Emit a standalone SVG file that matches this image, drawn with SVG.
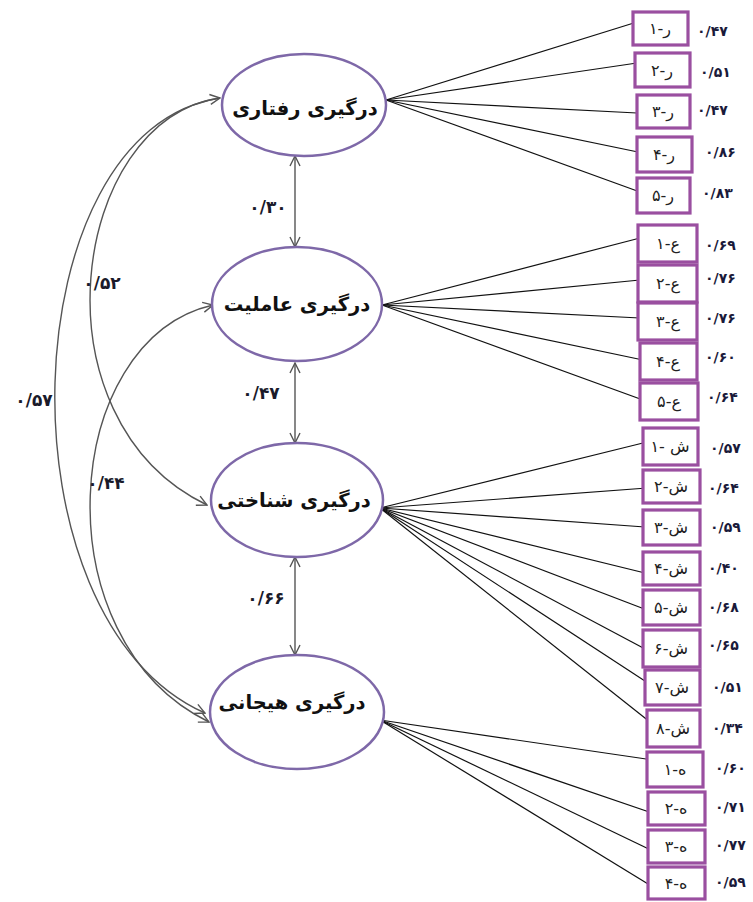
<svg xmlns="http://www.w3.org/2000/svg" width="753" height="902" viewBox="0 0 753 902">
<style>
  .lat { fill: #ffffff; stroke: #7e68a8; stroke-width: 2.5; }
  .lbl { font-family: "DejaVu Sans", "Noto Sans", sans-serif; font-weight: bold; font-size: 19.5px; fill: #111; text-anchor: middle; dominant-baseline: central; }
  .box { fill: #ffffff; stroke: #9a4fa0; stroke-width: 3.2; }
  .btx { font-family: "DejaVu Sans", sans-serif; font-size: 16px; fill: #222; text-anchor: middle; dominant-baseline: central; }
  .val { font-family: "DejaVu Sans", sans-serif; font-size: 14px; font-weight: bold; fill: #1a1a3a; dominant-baseline: central; }
  .cor { font-family: "DejaVu Sans", sans-serif; font-size: 17px; font-weight: bold; fill: #1a1a2a; text-anchor: middle; dominant-baseline: central; }
  .ld { stroke: #111; stroke-width: 1.2; fill: none; }
  .cv { stroke: #555; stroke-width: 1.4; fill: none; }
</style>
<defs>
  <marker id="ah" viewBox="0 0 12 12" refX="11" refY="6" markerWidth="12" markerHeight="12" markerUnits="userSpaceOnUse" orient="auto-start-reverse">
    <path d="M1,1 L11,6 L1,11" fill="none" stroke="#555" stroke-width="1.4"/>
  </marker>
</defs>

<g id="connectors">
  <path class="cv" d="M220,98 C10,130 -5,620 205,713" marker-end="url(#ah)"/>
  <path class="cv" d="M220,98 C70,120 30,420 207,505" marker-start="url(#ah)" marker-end="url(#ah)"/>
  <path class="cv" d="M213,305 C60,340 40,640 209,722" marker-start="url(#ah)" marker-end="url(#ah)"/>
  <line class="cv" x1="295" y1="156" x2="295" y2="247" marker-start="url(#ah)" marker-end="url(#ah)"/>
  <line class="cv" x1="295" y1="363" x2="295" y2="443" marker-start="url(#ah)" marker-end="url(#ah)"/>
  <line class="cv" x1="295" y1="557" x2="295" y2="655" marker-start="url(#ah)" marker-end="url(#ah)"/>
  <line class="ld" x1="386" y1="100" x2="637" y2="22"/>
  <line class="ld" x1="386" y1="100" x2="637" y2="63"/>
  <line class="ld" x1="386" y1="100" x2="637" y2="113"/>
  <line class="ld" x1="386" y1="100" x2="638" y2="152"/>
  <line class="ld" x1="386" y1="100" x2="640" y2="192"/>
  <line class="ld" x1="382" y1="305" x2="640" y2="238"/>
  <line class="ld" x1="382" y1="305" x2="640" y2="280"/>
  <line class="ld" x1="382" y1="305" x2="640" y2="318"/>
  <line class="ld" x1="382" y1="305" x2="643" y2="360"/>
  <line class="ld" x1="382" y1="305" x2="643" y2="400"/>
  <line class="ld" x1="380" y1="508" x2="647" y2="442"/>
  <line class="ld" x1="380" y1="508" x2="647" y2="488"/>
  <line class="ld" x1="380" y1="508" x2="645" y2="527"/>
  <line class="ld" x1="380" y1="508" x2="645" y2="573"/>
  <line class="ld" x1="380" y1="508" x2="647" y2="610"/>
  <line class="ld" x1="380" y1="508" x2="647" y2="650"/>
  <line class="ld" x1="380" y1="508" x2="648" y2="683"/>
  <line class="ld" x1="380" y1="508" x2="650" y2="722"/>
  <line class="ld" x1="380" y1="720" x2="653" y2="760"/>
  <line class="ld" x1="380" y1="720" x2="658" y2="815"/>
  <line class="ld" x1="380" y1="720" x2="655" y2="852"/>
  <line class="ld" x1="380" y1="720" x2="653" y2="887"/>
</g>

<g id="corr-labels">
  <text class="cor" x="268" y="207">۰/۳۰</text>
  <text class="cor" x="261" y="393">۰/۴۷</text>
  <text class="cor" x="266" y="598">۰/۶۶</text>
  <text class="cor" x="102" y="283">۰/۵۲</text>
  <text class="cor" x="34" y="400">۰/۵۷</text>
  <text class="cor" x="106" y="483">۰/۴۴</text>
</g>

<g id="f1">
  <ellipse class="lat" cx="304" cy="105" rx="82" ry="51"/>
  <text class="lbl" x="305" y="108" direction="rtl">درگیری رفتاری</text>
</g>
<g id="f2">
  <ellipse class="lat" cx="297" cy="304" rx="85" ry="57"/>
  <text class="lbl" x="297" y="304" direction="rtl">درگیری عاملیت</text>
</g>
<g id="f3">
  <ellipse class="lat" cx="297" cy="500" rx="86" ry="57"/>
  <text class="lbl" x="294" y="500" direction="rtl">درگیری شناختی</text>
</g>
<g id="f4">
  <ellipse class="lat" cx="297" cy="712" rx="87" ry="57"/>
  <text class="lbl" x="292" y="702" direction="rtl">درگیری هیجانی</text>
</g>

<g id="r1"><rect class="box" x="633" y="12" width="55" height="33"/><text class="btx" x="660" y="28" direction="rtl">ر-۱</text><text class="val" x="697" y="31">۰/۴۷</text></g>
<g id="r2"><rect class="box" x="635" y="53" width="55" height="34"/><text class="btx" x="662" y="70" direction="rtl">ر-۲</text><text class="val" x="700" y="72">۰/۵۱</text></g>
<g id="r3"><rect class="box" x="637" y="95" width="53" height="33"/><text class="btx" x="663" y="111" direction="rtl">ر-۳</text><text class="val" x="697" y="110">۰/۴۷</text></g>
<g id="r4"><rect class="box" x="637" y="137" width="55" height="35"/><text class="btx" x="664" y="154" direction="rtl">ر-۴</text><text class="val" x="705" y="152">۰/۸۶</text></g>
<g id="r5"><rect class="box" x="637" y="178" width="53" height="35"/><text class="btx" x="663" y="195" direction="rtl">ر-۵</text><text class="val" x="702" y="193">۰/۸۳</text></g>

<g id="a1"><rect class="box" x="638" y="225" width="59" height="37"/><text class="btx" x="668" y="243" direction="rtl">ع-۱</text><text class="val" x="705" y="245">۰/۶۹</text></g>
<g id="a2"><rect class="box" x="638" y="265" width="59" height="37"/><text class="btx" x="668" y="283" direction="rtl">ع-۲</text><text class="val" x="705" y="278">۰/۷۶</text></g>
<g id="a3"><rect class="box" x="638" y="303" width="59" height="37"/><text class="btx" x="668" y="321" direction="rtl">ع-۳</text><text class="val" x="705" y="318">۰/۷۶</text></g>
<g id="a4"><rect class="box" x="640" y="343" width="57" height="37"/><text class="btx" x="668" y="361" direction="rtl">ع-۴</text><text class="val" x="705" y="357">۰/۶۰</text></g>
<g id="a5"><rect class="box" x="640" y="383" width="58" height="37"/><text class="btx" x="669" y="401" direction="rtl">ع-۵</text><text class="val" x="707" y="397">۰/۶۴</text></g>

<g id="s1"><rect class="box" x="643" y="428" width="55" height="37"/><text class="btx" x="670" y="446" direction="rtl">ش -۱</text><text class="val" x="710" y="448">۰/۵۷</text></g>
<g id="s2"><rect class="box" x="643" y="470" width="57" height="33"/><text class="btx" x="671" y="486" direction="rtl">ش-۲</text><text class="val" x="708" y="488">۰/۶۴</text></g>
<g id="s3"><rect class="box" x="643" y="510" width="57" height="35"/><text class="btx" x="671" y="527" direction="rtl">ش-۳</text><text class="val" x="710" y="527">۰/۵۹</text></g>
<g id="s4"><rect class="box" x="643" y="552" width="57" height="33"/><text class="btx" x="671" y="568" direction="rtl">ش-۴</text><text class="val" x="708" y="568">۰/۴۰</text></g>
<g id="s5"><rect class="box" x="643" y="590" width="57" height="35"/><text class="btx" x="671" y="607" direction="rtl">ش-۵</text><text class="val" x="708" y="607">۰/۶۸</text></g>
<g id="s6"><rect class="box" x="643" y="630" width="57" height="37"/><text class="btx" x="671" y="648" direction="rtl">ش-۶</text><text class="val" x="708" y="645">۰/۶۵</text></g>
<g id="s7"><rect class="box" x="645" y="670" width="55" height="35"/><text class="btx" x="672" y="687" direction="rtl">ش-۷</text><text class="val" x="712" y="687">۰/۵۱</text></g>
<g id="s8"><rect class="box" x="647" y="710" width="53" height="37"/><text class="btx" x="673" y="728" direction="rtl">ش-۸</text><text class="val" x="712" y="728">۰/۳۴</text></g>

<g id="h1"><rect class="box" x="647" y="752" width="56" height="35"/><text class="btx" x="675" y="769" direction="rtl">ه-۱</text><text class="val" x="715" y="768">۰/۶۰</text></g>
<g id="h2"><rect class="box" x="648" y="792" width="57" height="33"/><text class="btx" x="676" y="808" direction="rtl">ه-۲</text><text class="val" x="715" y="807">۰/۷۱</text></g>
<g id="h3"><rect class="box" x="648" y="830" width="57" height="33"/><text class="btx" x="676" y="846" direction="rtl">ه-۳</text><text class="val" x="715" y="845">۰/۷۷</text></g>
<g id="h4"><rect class="box" x="648" y="867" width="57" height="32"/><text class="btx" x="676" y="883" direction="rtl">ه-۴</text><text class="val" x="715" y="882">۰/۵۹</text></g>
</svg>
